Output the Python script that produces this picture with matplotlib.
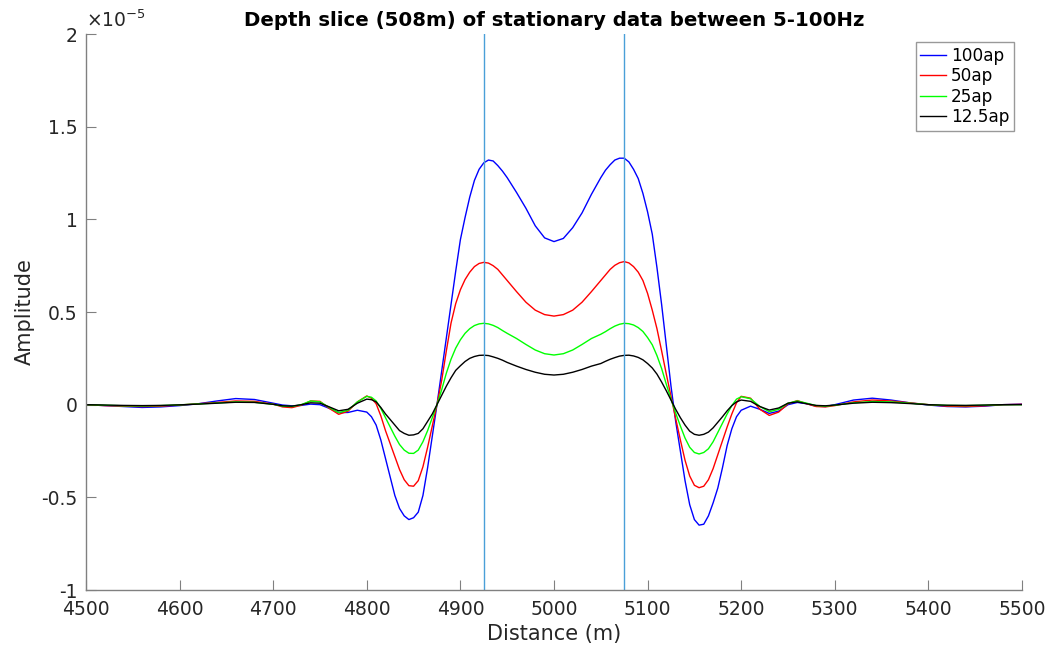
import numpy as np
import matplotlib.pyplot as plt
from matplotlib.ticker import FuncFormatter

# distance samples (m): coarse in the tails, finer around the anomaly
dist = np.concatenate([
    np.arange(4500, 4700, 20),
    np.arange(4700, 4800, 10),
    np.arange(4800, 4955, 5),
    np.arange(4960, 5045, 10),
    np.arange(5050, 5205, 5),
    np.arange(5210, 5305, 10),
    np.arange(5320, 5505, 20),
])

# amplitudes in units of 1e-5
amp_100 = [
    0.000, -0.005, -0.010, -0.015, -0.012, -0.005, 0.005, 0.020, 0.033, 0.028,
    0.008, -0.002, -0.006, -0.004, 0.003, 0.000, -0.020, -0.043, -0.042, -0.030,
    -0.040, -0.065, -0.110, -0.190, -0.290, -0.390, -0.490, -0.560, -0.600, -0.620,
    -0.610, -0.580, -0.490, -0.340, -0.170, 0.000, 0.180, 0.360, 0.540, 0.720,
    0.890, 1.010, 1.120, 1.210, 1.270, 1.305, 1.320, 1.315, 1.290, 1.260, 1.225,
    1.145, 1.060, 0.965, 0.900, 0.880, 0.897, 0.955, 1.035, 1.135,
    1.225, 1.265, 1.295, 1.320, 1.330, 1.330, 1.310, 1.270, 1.220, 1.140,
    1.040, 0.920, 0.740, 0.540, 0.320, 0.100, -0.090, -0.250, -0.410, -0.540,
    -0.620, -0.650, -0.645, -0.600, -0.530, -0.450, -0.340, -0.220, -0.130, -0.065, -0.030,
    -0.008, -0.025, -0.047, -0.035, 0.000, 0.012, 0.005, -0.008, -0.010, 0.000,
    0.025, 0.035, 0.025, 0.010, -0.002, -0.010, -0.012, -0.008, 0.000, 0.003]

amp_50 = [
    0.000, -0.005, -0.008, -0.010, -0.008, -0.002, 0.005, 0.012, 0.020, 0.018,
    0.003, -0.012, -0.016, -0.003, 0.020, 0.018, -0.020, -0.052, -0.035, 0.015,
    0.047, 0.035, 0.005, -0.060, -0.140, -0.210, -0.280, -0.350, -0.405, -0.437,
    -0.440, -0.410, -0.335, -0.230, -0.115, 0.000, 0.130, 0.290, 0.440, 0.545,
    0.620, 0.675, 0.715, 0.745, 0.762, 0.768, 0.764, 0.750, 0.730, 0.700, 0.670,
    0.610, 0.553, 0.510, 0.486, 0.478, 0.486, 0.510, 0.553, 0.610,
    0.670, 0.700, 0.730, 0.752, 0.766, 0.772, 0.765, 0.745, 0.715, 0.670,
    0.600, 0.510, 0.410, 0.290, 0.165, 0.045, -0.075, -0.190, -0.300, -0.385,
    -0.435, -0.448, -0.440, -0.405, -0.345, -0.270, -0.195, -0.120, -0.050, 0.010, 0.045,
    0.035, -0.025, -0.058, -0.040, 0.005, 0.022, 0.005, -0.010, -0.012, -0.005,
    0.015, 0.025, 0.020, 0.010, 0.000, -0.008, -0.010, -0.006, 0.000, 0.002]

amp_25 = [
    0.000, -0.003, -0.006, -0.007, -0.005, -0.001, 0.004, 0.009, 0.015, 0.013,
    0.002, -0.008, -0.010, 0.000, 0.020, 0.015, -0.015, -0.043, -0.030, 0.015,
    0.045, 0.040, 0.020, -0.020, -0.070, -0.120, -0.170, -0.215, -0.245, -0.262,
    -0.263, -0.245, -0.200, -0.140, -0.070, 0.000, 0.080, 0.170, 0.245, 0.305,
    0.350, 0.385, 0.410, 0.427, 0.436, 0.439, 0.436, 0.428, 0.416, 0.400, 0.385,
    0.357, 0.325, 0.295, 0.275, 0.268, 0.275, 0.295, 0.325, 0.357,
    0.380, 0.394, 0.410, 0.424, 0.434, 0.439, 0.437, 0.430, 0.416, 0.395,
    0.362, 0.323, 0.265, 0.195, 0.110, 0.030, -0.045, -0.115, -0.180, -0.230,
    -0.258, -0.266, -0.258, -0.238, -0.200, -0.150, -0.100, -0.050, -0.005, 0.030, 0.043,
    0.032, -0.010, -0.038, -0.025, 0.008, 0.020, 0.008, -0.005, -0.008, -0.003,
    0.010, 0.017, 0.015, 0.008, 0.000, -0.004, -0.005, -0.003, 0.000, 0.000]

amp_12 = [
    0.000, -0.002, -0.004, -0.005, -0.004, -0.001, 0.003, 0.008, 0.013, 0.012,
    0.002, -0.006, -0.008, 0.000, 0.010, 0.008, -0.012, -0.033, -0.025, 0.008,
    0.030, 0.027, 0.015, -0.015, -0.050, -0.080, -0.110, -0.140, -0.155, -0.165,
    -0.163, -0.155, -0.130, -0.090, -0.050, 0.000, 0.050, 0.100, 0.145, 0.185,
    0.210, 0.233, 0.250, 0.260, 0.266, 0.267, 0.265, 0.258, 0.250, 0.240, 0.228,
    0.208, 0.190, 0.175, 0.164, 0.160, 0.164, 0.175, 0.190, 0.208,
    0.222, 0.234, 0.245, 0.254, 0.262, 0.266, 0.267, 0.263, 0.255, 0.242,
    0.222, 0.198, 0.165, 0.122, 0.075, 0.025, -0.025, -0.070, -0.110, -0.143,
    -0.160, -0.165, -0.160, -0.148, -0.125, -0.095, -0.065, -0.033, -0.005, 0.015, 0.025,
    0.018, -0.010, -0.029, -0.018, 0.008, 0.015, 0.005, -0.004, -0.006, -0.002,
    0.008, 0.013, 0.011, 0.006, 0.000, -0.003, -0.004, -0.002, 0.000, 0.000]

labels = ['100ap', '50ap', '25ap', '12.5ap']
colors = ['#0000ff', '#ff0000', '#00ff00', '#000000']
markers_x = [4925, 5075]

plt.rcParams['font.family'] = ['DejaVu Sans']

fig = plt.figure(figsize=(10.52, 6.48), dpi=100)
ax = fig.add_axes([0.0817, 0.0895, 0.8898, 0.858])

for series, lab, col in zip([amp_100, amp_50, amp_25, amp_12], labels, colors):
    ax.plot(dist, series, color=col, lw=1.0, label=lab)

for xv in markers_x:
    ax.axvline(xv, color='#4a9fd8', lw=1.0)

ax.set_xlim(4500, 5500)
ax.set_ylim(-1, 2)
ax.set_xticks(np.arange(4500, 5501, 100))
ax.set_yticks([-1, -0.5, 0, 0.5, 1, 1.5, 2])
ax.yaxis.set_major_formatter(FuncFormatter(lambda v, p: '%g' % v))

for side in ['top', 'right']:
    ax.spines[side].set_visible(False)
for side in ['left', 'bottom']:
    ax.spines[side].set_color('#808080')
    ax.spines[side].set_linewidth(1.0)
ax.tick_params(direction='in', length=7, width=0.8, color='#808080',
               labelsize=13.5, labelcolor='#262626')
ax.tick_params(axis='x', pad=7)
ax.tick_params(axis='y', pad=6)

ax.text(0.0, 1.005, r'$\times 10^{-5}$', transform=ax.transAxes,
        fontsize=13.5, color='#262626', ha='left', va='bottom')

ax.set_xlabel('Distance (m)', fontsize=15, color='#262626', labelpad=4)
ax.set_ylabel('Amplitude', fontsize=15, color='#262626', labelpad=5)
ax.set_title('Depth slice (508m) of stationary data between 5-100Hz',
             fontsize=14.2, fontweight='bold', pad=6)

leg = ax.legend(loc='upper right', fontsize=12.2, frameon=True, fancybox=False,
                handlelength=1.5, handletextpad=0.3, borderpad=0.25,
                labelspacing=0.15, borderaxespad=0.5)
leg.get_frame().set_edgecolor('#808080')
leg.get_frame().set_linewidth(1.0)

fig.savefig('out.png', dpi=100)
